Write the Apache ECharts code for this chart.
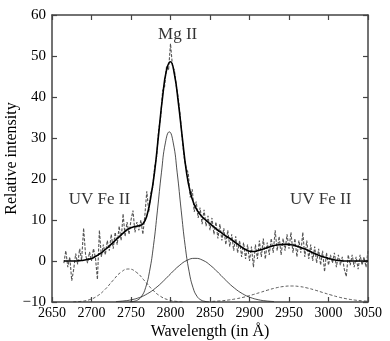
<!DOCTYPE html>
<html><head><meta charset="utf-8">
<script src="https://cdn.jsdelivr.net/npm/echarts@6/dist/echarts.min.js"></script>
<style>html,body{margin:0;padding:0;background:#fff}#c{width:390px;height:341px}</style>
</head><body><div id="c"></div>
<script>
// Observed spectrum: wavelength grid start/step and relative intensities
const obsStart = 2665, obsStep = 2.5;
const observed = [
-0.5,2.5,-1.5,1.0,-4.8,-2.0,1.8,-0.8,3.0,0.2,8.0,1.5,-0.5,2.2,0.0,3.0,0.8,-4.5,7.5,1.0,
4.0,1.5,5.0,2.5,6.5,3.0,7.0,4.0,8.5,5.0,11.5,6.0,9.5,6.5,10.0,12.3,7.0,9.5,7.5,10.0,
6.5,11.0,17.0,12.0,16.5,18.0,23.0,25.5,32.0,35.0,41.5,42.5,47.5,46.5,53.0,47.5,46.5,42.5,39.5,35.0,
29.5,25.0,22.5,21.5,15.5,17.5,12.0,14.5,10.5,13.0,9.0,12.5,8.5,11.0,7.5,10.5,6.5,9.5,5.5,9.0,
5.0,8.0,4.0,7.5,3.5,6.5,2.5,6.0,2.0,5.0,1.0,4.5,0.5,4.0,0.0,3.5,-1.5,4.0,0.5,5.0,
1.0,5.5,0.5,4.5,1.5,5.5,2.0,7.5,2.5,6.0,1.5,5.5,2.5,6.5,3.0,7.0,2.0,5.5,1.0,5.0,
2.0,7.0,1.0,5.0,0.5,4.0,0.0,3.5,-0.5,3.0,-1.0,2.5,-2.6,2.0,-1.0,1.5,-0.5,2.0,-1.5,1.5,
-1.0,1.0,-2.0,-3.8,1.5,-1.0,1.5,-1.5,1.0,-2.0,1.5,-1.0,1.0,-1.5,2.5
];
// Total fit
const fitX = [2665,2670,2675,2680,2685,2690,2695,2700,2705,2710,2715,2720,2725,2730,2735,2740,2745,2750,2755,2760,2765,2770,2775,2780,2785,2790,2795,2800,2805,2810,2815,2820,2825,2830,2835,2840,2845,2850,2855,2860,2865,2870,2875,2880,2885,2890,2895,2900,2905,2910,2915,2920,2925,2930,2935,2940,2945,2950,2955,2960,2965,2970,2975,2980,2985,2990,2995,3000,3005,3010,3015,3020,3025,3030,3035,3040,3045,3050];
const fitY = [0,0,0,0,0.1,0.2,0.4,0.6,1.1,1.7,2.4,3.2,4.1,5.0,5.9,6.8,7.6,8.1,8.4,8.6,9.0,11.0,15.5,22.0,31.0,40.0,46.6,48.6,45.5,38.5,30.0,22.0,16.8,13.8,12.0,10.8,9.9,9.1,8.3,7.5,6.8,6.1,5.5,4.8,4.1,3.4,2.8,2.4,2.3,2.5,2.8,3.1,3.4,3.7,3.9,4.0,4.1,4.0,3.9,3.6,3.3,2.9,2.5,2.0,1.6,1.2,0.9,0.6,0.4,0.2,0.1,0,0,0,0,0,0,0];
// Mg II narrow component
const narrowX = [2748.5,2753.5,2758.5,2763.5,2768.5,2773.5,2778.5,2783.5,2788.5,2793.5,2798.5,2803.5,2808.5,2813.5,2818.5,2823.5,2828.5,2833.5,2838.5,2843.5,2848.5];
const narrowY = [-9.96,-9.84,-9.5,-8.6,-6.5,-2.5,3.8,12.4,21.5,28.8,31.5,28.8,21.5,12.4,3.8,-2.5,-6.5,-8.6,-9.5,-9.84,-9.96];
// Mg II broad component
const broadX = [2731,2741,2751,2761,2771,2781,2791,2801,2811,2821,2831,2841,2851,2861,2871,2881,2891,2901,2911,2921,2931];
const broadY = [-9.89,-9.74,-9.44,-8.88,-7.96,-6.62,-4.89,-2.95,-1.14,0.17,0.65,0.17,-1.14,-2.95,-4.89,-6.62,-7.96,-8.88,-9.44,-9.74,-9.89];
// UV Fe II components
const fe1X = [2677,2687,2697,2707,2717,2727,2737,2747,2757,2767,2777,2787,2797,2807,2817];
const fe1Y = [-9.96,-9.84,-9.46,-8.57,-6.96,-4.78,-2.78,-1.95,-2.78,-4.78,-6.96,-8.57,-9.46,-9.84,-9.96];
const fe2X = [2853,2863,2873,2883,2893,2903,2913,2923,2933,2943,2953,2963,2973,2983,2993,3003,3013,3023,3033,3043,3050];
const fe2Y = [-9.85,-9.73,-9.52,-9.22,-8.81,-8.28,-7.70,-7.10,-6.58,-6.22,-6.1,-6.22,-6.58,-7.10,-7.70,-8.28,-8.81,-9.22,-9.52,-9.73,-9.8];
// Annotations
const annText = ['Mg II','UV Fe II','UV Fe II'];
const annX = [2809,2710,2990];
const annY = [55.2,15.0,15.0];
// Ticks
const xMin = 2650, xMax = 3050, xStep = 50;
const yMin = -10, yMax = 60, yStep = 10;

const zip = (xs, ys) => xs.map((x, i) => [x, ys[i]]);
const obsData = observed.map((v, i) => [obsStart + i * obsStep, v]);
const FONT = '"Liberation Serif","DejaVu Serif",serif';
const minus = v => String(v).replace('-', '\u2212');

const axisCommon = {
  axisLine: {show: true, onZero: false, lineStyle: {color: '#444', width: 1.5}},
  axisTick: {show: true, inside: true, length: 5, lineStyle: {color: '#444', width: 1.2}},
  splitLine: {show: false}
};
const chart = echarts.init(document.getElementById('c'));
chart.setOption({
  animation: false,
  backgroundColor: '#fff',
  grid: {left: 52, right: 22, top: 15, bottom: 39, containLabel: false, outerBoundsMode: 'none'},
  xAxis: [
    Object.assign({type: 'value', min: xMin, max: xMax, interval: xStep,
      name: 'Wavelength (in \u00C5)', nameLocation: 'middle', nameGap: 22, nameMoveOverlap: false,
      nameTextStyle: {fontFamily: FONT, fontSize: 16, color: '#000'},
      axisLabel: {fontFamily: FONT, fontSize: 14, color: '#000', margin: 4, formatter: minus}}, axisCommon),
    Object.assign({type: 'value', min: xMin, max: xMax, interval: xStep, position: 'top',
      axisLabel: {show: false}}, axisCommon)
  ],
  yAxis: [
    Object.assign({type: 'value', min: yMin, max: yMax, interval: yStep,
      name: 'Relative intensity', nameLocation: 'middle', nameGap: 32, nameRotate: 90, nameMoveOverlap: false,
      nameTextStyle: {fontFamily: FONT, fontSize: 16, color: '#000'},
      axisLabel: {fontFamily: FONT, fontSize: 15, color: '#000', margin: 6, formatter: minus}}, axisCommon),
    Object.assign({type: 'value', min: yMin, max: yMax, interval: yStep, position: 'right',
      axisLabel: {show: false}}, axisCommon)
  ],
  series: [
    {type: 'line', data: obsData, showSymbol: false, symbol: 'none',
     lineStyle: {color: '#555', width: 1.1, type: [3, 1.5]}, z: 2},
    {type: 'line', data: zip(fe1X, fe1Y), showSymbol: false, symbol: 'none', smooth: true,
     lineStyle: {color: '#333', width: 0.8, type: [3, 2]}, z: 3},
    {type: 'line', data: zip(fe2X, fe2Y), showSymbol: false, symbol: 'none', smooth: true,
     lineStyle: {color: '#333', width: 0.8, type: [3, 2]}, z: 3},
    {type: 'line', data: zip(narrowX, narrowY), showSymbol: false, symbol: 'none', smooth: true,
     lineStyle: {color: '#222', width: 0.8}, z: 3},
    {type: 'line', data: zip(broadX, broadY), showSymbol: false, symbol: 'none', smooth: true,
     lineStyle: {color: '#222', width: 0.8}, z: 3},
    {type: 'line', data: zip(fitX, fitY), showSymbol: false, symbol: 'none', smooth: true,
     lineStyle: {color: '#000', width: 1.6}, z: 4},
    {type: 'scatter', symbolSize: 0, z: 5,
     data: annText.map((t, i) => ({value: [annX[i], annY[i]], name: t})),
     label: {show: true, position: 'inside', formatter: p => p.name,
       fontFamily: FONT, fontSize: 17, color: '#000'}}
  ]
});
</script></body></html>
